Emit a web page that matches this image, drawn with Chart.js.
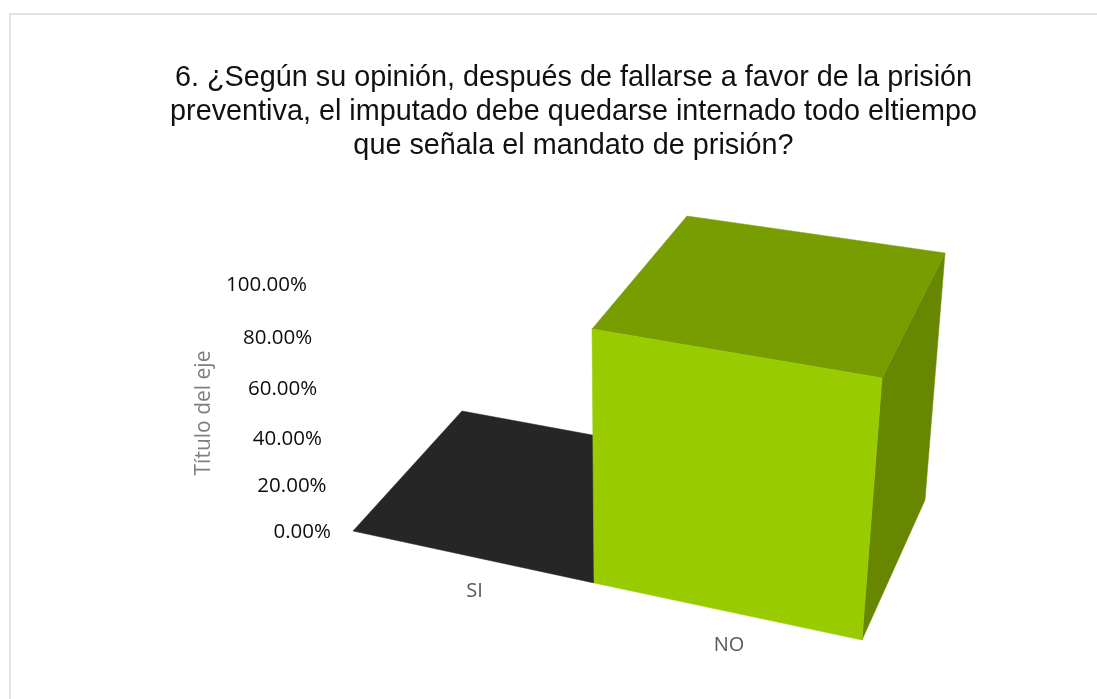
<!DOCTYPE html>
<html><head><meta charset="utf-8">
<script src="https://cdn.jsdelivr.net/npm/chart.js@4"></script>
<style>
html,body{margin:0;padding:0;background:#fff;}
#wrap{position:absolute;left:0;top:0;width:1097px;height:699px;}
#card{position:absolute;left:9px;top:13px;width:1088px;height:686px;border-left:2px solid #e2e2e2;border-top:2px solid #e2e2e2;box-sizing:border-box;pointer-events:none;}
</style></head><body>
<div id="wrap"><canvas id="c" width="1097" height="699"></canvas><div id="card"></div></div>
<script>
const titleLines = [
  "6. ¿Según su opinión, después de fallarse a favor de la prisión",
  "preventiva, el imputado debe quedarse internado todo eltiempo",
  "que señala el mandato de prisión?"
];
const categories = ["SI", "NO"];
const seriesValues = [0, 100];
const yTicks = [0, 20, 40, 60, 80, 100];
const yAxisTitle = "Título del eje";

const frontColors = ["#262626", "#99CC00"];
const topColors = ["#262626", "#789D00"];
const sideColors = ["#262626", "#688700"];

// 3D camera: screen position of the plot box at left / middle / right of the x scale
const stations = [
  {u:0,   fb:[353,531], ft:[329,284], bb:[462,411], bt:[445,180]},
  {u:0.5, fb:[594,583], ft:[592,329], bb:[690,453], bt:[687,216]},
  {u:1,   fb:[862,640], ft:[882,378], bb:[925,500], bt:[945,253]}
];
const lerp = (a,b,t)=>[a[0]+(b[0]-a[0])*t, a[1]+(b[1]-a[1])*t];
function project(u,h,d){
  const persp = h/(1+0.1*(1-h));
  const i = u<=0.5?0:1, A=stations[i], B=stations[i+1];
  const t=(u-A.u)/(B.u-A.u);
  const at=k=>lerp(A[k],B[k],t);
  return lerp(lerp(at('fb'),at('ft'),persp), lerp(at('bb'),at('bt'),persp), d);
}
function poly(ctx,pts,color){
  ctx.beginPath();pts.forEach((p,i)=>i?ctx.lineTo(p[0],p[1]):ctx.moveTo(p[0],p[1]));ctx.closePath();
  ctx.fillStyle=color;ctx.strokeStyle=color;ctx.lineWidth=0.5;ctx.fill();ctx.stroke();
}
const bars3d = {
  id:'bars3d',
  beforeDatasetsDraw(chart){
    const {ctx,chartArea:a,scales:{x,y}}=chart;
    const U=px=>(px-a.left)/(a.right-a.left), H=py=>(a.bottom-py)/(a.bottom-a.top);
    const meta=chart.getDatasetMeta(0);
    ctx.save();
    meta.data.forEach((bar,i)=>{
      const u0=U(bar.x-bar.width/2),u1=U(bar.x+bar.width/2),h0=H(bar.base),h1=H(bar.y);
      if(h1>h0){
        poly(ctx,[project(u1,h0,0),project(u1,h0,1),project(u1,h1,1),project(u1,h1,0)],sideColors[i]);
      }
      poly(ctx,[project(u0,h1,0),project(u1,h1,0),project(u1,h1,1),project(u0,h1,1)],topColors[i]);
      if(h1>h0){
        poly(ctx,[project(u0,h0,0),project(u1,h0,0),project(u1,h1,0),project(u0,h1,0)],frontColors[i]);
      }
    });
    // value axis labels, along the left front edge of the box
    ctx.font='20.5px "Open Sans"';ctx.fillStyle='#0d0d0d';ctx.textAlign='right';ctx.textBaseline='middle';
    yTicks.forEach(v=>{
      const p=project(0,H(y.getPixelForValue(v)),0);
      ctx.fillText(v.toFixed(2)+'%',p[0]-22,p[1]+1);
    });
    // category labels, below the front edge
    ctx.font='20px "Open Sans"';ctx.fillStyle='#595959';ctx.textAlign='center';
    categories.forEach((c,i)=>{
      const p=project(U(x.getPixelForValue(i)),0,0);
      ctx.fillText(c,p[0]+1,p[1]+34);
    });
    // axis title
    ctx.save();ctx.translate(204,413);ctx.rotate(-Math.PI/2);
    ctx.font='21px "Open Sans"';ctx.fillStyle='#7f7f7f';ctx.textAlign='center';
    ctx.fillText(yAxisTitle,0,0);ctx.restore();
    ctx.restore();
    return false;
  }
};
new Chart(document.getElementById('c'),{
  type:'bar',
  data:{labels:categories,datasets:[{data:seriesValues,backgroundColor:frontColors,barPercentage:1,categoryPercentage:1}]},
  plugins:[bars3d],
  options:{
    responsive:false,animation:false,
    layout:{padding:{left:50,right:0,top:61,bottom:60}},
    plugins:{
      legend:{display:false},tooltip:{enabled:false},
      title:{display:true,text:titleLines,color:'#111',font:{family:'"Liberation Sans"',size:28.8,weight:'normal',lineHeight:1.18},padding:{top:0,bottom:20}}
    },
    scales:{
      x:{display:false},
      y:{display:false,min:0,max:100,ticks:{stepSize:20}}
    }
  }
});
</script></body></html>
